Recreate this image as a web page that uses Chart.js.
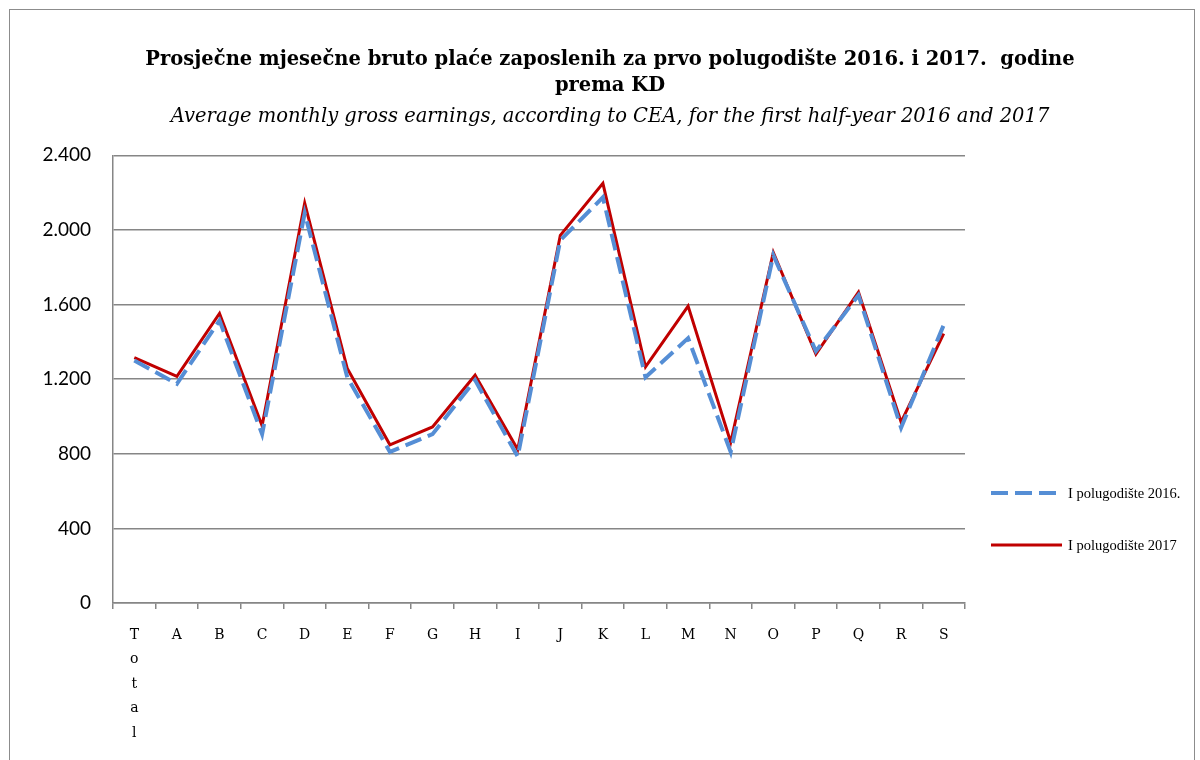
<!DOCTYPE html>
<html>
<head>
<meta charset="utf-8">
<script src="https://cdn.jsdelivr.net/npm/chart.js@4.4.0/dist/chart.umd.min.js"></script>
<style>
  body { margin: 0; background: #fff; }
  #wrap { position: relative; width: 1200px; height: 760px; overflow: hidden; }
  #frame { position: absolute; left: 9px; top: 9px; width: 1186px; height: 760px; border: 1px solid #8c8c8c; box-sizing: border-box; }
  #lineChart { position: absolute; left: 0; top: 0; }
</style>
</head>
<body>
<div id="wrap">
  <div id="frame"></div>
  <canvas id="lineChart" width="1200" height="760"></canvas>
</div>
<script>
const categories = [
  ["T", "o", "t", "a", "l"], "A", "B", "C", "D", "E", "F", "G", "H", "I",
  "J", "K", "L", "M", "N", "O", "P", "Q", "R", "S",
];
const half2016 = [
  1300, 1175, 1515, 905, 2090, 1210, 810, 905, 1195, 785,
  1945, 2175, 1210, 1420, 810, 1865, 1350, 1650, 940, 1490,
];
const half2017 = [
  1315, 1215, 1552, 950, 2144, 1257, 848, 944, 1221, 823,
  1971, 2250, 1266, 1592, 862, 1880, 1334, 1667, 970, 1444,
];
const yTicks = [0, 400, 800, 1200, 1600, 2000, 2400];

const serif = "'DejaVu Serif', 'Liberation Serif', serif";

// legend drawn at the right, like the original
const sideLegend = {
  id: "sideLegend",
  afterDraw(chart) {
    const ctx = chart.ctx;
    const rows = [493, 545];
    chart.data.datasets.forEach((ds, i) => {
      const y = rows[i];
      ctx.save();
      ctx.strokeStyle = ds.borderColor;
      ctx.lineWidth = ds.borderWidth;
      ctx.setLineDash(ds.borderDash || []);
      ctx.beginPath();
      ctx.moveTo(991, y);
      ctx.lineTo(1062, y);
      ctx.stroke();
      ctx.setLineDash([]);
      ctx.fillStyle = "#000";
      ctx.font = "14.5px 'Liberation Serif', serif";
      ctx.textBaseline = "middle";
      ctx.fillText(ds.label, 1068, y + 1);
      ctx.restore();
    });
  },
};

const ctx = document.getElementById("lineChart");

new Chart(ctx, {
  type: "line",
  data: {
    labels: categories,
    datasets: [
      {
        label: "I polugodište 2016.",
        data: half2016,
        borderColor: "#558ED5",
        borderWidth: 4,
        borderDash: [17, 7],
        pointRadius: 0,
        tension: 0,
      },
      {
        label: "I polugodište 2017",
        data: half2017,
        borderColor: "#C00000",
        borderWidth: 3,
        pointRadius: 0,
        tension: 0,
      },
    ],
  },
  options: {
    responsive: false,
    animation: false,
    layout: { padding: { left: 20, right: 0, top: 0, bottom: 0 } },
    plugins: {
      legend: { display: false },
      tooltip: { enabled: false },
      title: {
        display: true,
        text: [
          "Prosječne mjesečne bruto plaće zaposlenih za prvo polugodište 2016. i 2017.  godine",
          "prema KD",
        ],
        color: "#000",
        font: { family: serif, size: 19.5, weight: "bold", lineHeight: 1.333 },
        padding: { top: 47, bottom: 2 },
      },
      subtitle: {
        display: true,
        text: "Average monthly gross earnings, according to CEA, for the first half-year 2016 and 2017",
        color: "#000",
        font: { family: serif, size: 19.5, style: "italic", lineHeight: 1.3 },
        padding: { top: 3, bottom: 26 },
      },
    },
    scales: {
      x: {
        offset: true,
        afterFit(scale) { scale.height = 157; },
        border: { color: "#868686", width: 1.5 },
        grid: {
          offset: true,
          drawOnChartArea: false,
          color: "#868686",
          tickLength: 6,
          lineWidth: 1.5,
        },
        ticks: {
          color: "#000",
          maxRotation: 0,
          autoSkip: false,
          padding: 14,
          font: { family: serif, size: 14, lineHeight: 1.75 },
        },
      },
      y: {
        min: 0,
        max: 2400,
        afterFit(scale) { scale.width = 93; },
        afterBuildTicks(scale) { scale.ticks = yTicks.map(v => ({ value: v })); },
        border: { color: "#868686", width: 1.5 },
        grid: { color: "#868686", lineWidth: 1.5, drawTicks: false },
        ticks: {
          color: "#000",
          padding: 22,
          font: { family: "Lato, 'Liberation Sans', sans-serif", size: 19 },
          callback: v => v.toLocaleString("de-DE"),
        },
      },
      legendSpace: {
        position: "right",
        afterFit(scale) { scale.width = 235; },
        grid: { display: false, drawTicks: false },
        border: { display: false },
        ticks: { display: false },
      },
    },
  },
  plugins: [sideLegend],
});
</script>
</body>
</html>
